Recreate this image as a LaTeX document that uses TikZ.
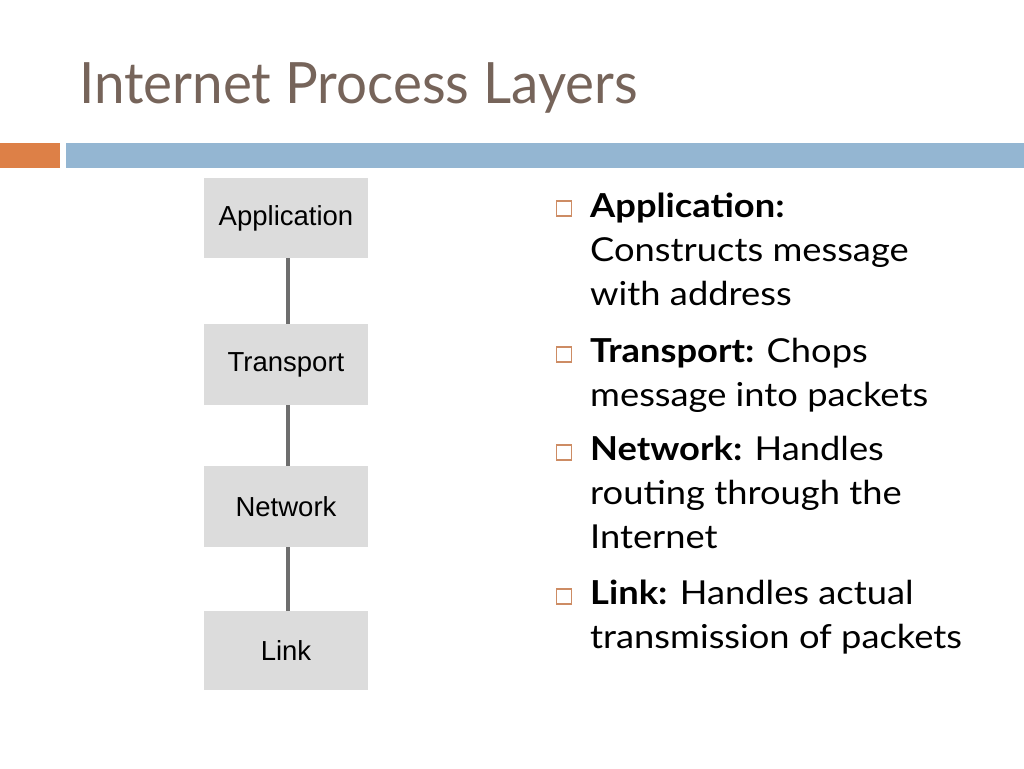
\documentclass[tikz,border=0pt]{standalone}
\usepackage{fontspec}
\setmainfont{Lato}[FakeStretch=1.1]
\newfontfamily\titlefont{Lato}[FakeStretch=0.96]
\newfontfamily\boxfont{Liberation Sans}
\definecolor{titlecol}{RGB}{118,100,90}
\definecolor{orangebar}{RGB}{221,128,71}
\definecolor{bluebar}{RGB}{148,182,210}
\definecolor{boxgray}{RGB}{220,220,220}
\definecolor{conncol}{RGB}{110,110,110}
\definecolor{bulletcol}{RGB}{205,140,100}
\tikzset{
  layerbox/.style={fill=boxgray, minimum width=164pt, minimum height=80pt, inner sep=0pt,
    font=\boxfont\fontsize{27.5}{29}\selectfont, text=black},
  conn/.style={draw=conncol, line width=3.5pt},
  bulletsq/.style={draw=bulletcol, line width=1.1pt, minimum size=15pt, inner sep=0pt},
  bullettext/.style={anchor=base west, inner sep=0pt, align=left,
    font=\fontsize{33}{44}\selectfont, text=black},
}
\begin{document}
\begin{tikzpicture}[x=1pt,y=-1pt]
\useasboundingbox (0,0) rectangle (1024,768);
\fill[white] (0,0) rectangle (1024,768);
\node[anchor=base west, inner sep=0pt, text=titlecol, font=\titlefont\fontsize{57}{60}\selectfont] (title) at (79,103) {Internet Process Layers};
\fill[orangebar] (0,143) rectangle (60,168);
\fill[bluebar] (66,143) rectangle (1024,168);

\node[layerbox] (app) at (286,218) {Application};
\node[layerbox, minimum height=81pt] (trans) at (286,364.5) {Transport};
\node[layerbox, minimum height=81pt] (net) at (286,506.5) {Network};
\node[layerbox, minimum height=79pt] (link) at (286,650.5) {Link};
\draw[conn] ([xshift=2pt]app.south) -- ([xshift=2pt]trans.north);
\draw[conn] ([xshift=2pt]trans.south) -- ([xshift=2pt]net.north);
\draw[conn] ([xshift=2pt]net.south) -- ([xshift=2pt]link.north);

% multi-line nodes: base anchor = baseline of the last line
\node[bulletsq] (b1) at (564,208.5) {};
\node[bullettext] (t1) at (590,305) {\textbf{Application:}\\Constructs message\\with address};
\node[bulletsq] (b2) at (564,354.5) {};
\node[bullettext] (t2) at (590,406) {\textbf{Transport:} Chops\\message into packets};
\node[bulletsq] (b3) at (564,452.5) {};
\node[bullettext] (t3) at (590,548) {\textbf{Network:} Handles\\routing through the\\Internet};
\node[bulletsq] (b4) at (564,596.5) {};
\node[bullettext] (t4) at (590,648) {\textbf{Link:} Handles actual\\transmission of packets};
\end{tikzpicture}
\end{document}
